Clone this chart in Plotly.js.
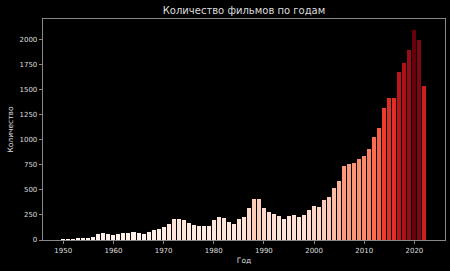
<!DOCTYPE html>
<html>
<head>
<meta charset="utf-8">
<script src="https://cdn.plot.ly/plotly-3.0.1.min.js"></script>
<style>html,body{margin:0;padding:0;background:#000;}#chart{width:450px;height:271px;}</style>
</head>
<body>
<div id="chart"></div>
<script>
const years = [1950,1951,1952,1953,1954,1955,1956,1957,1958,1959,
  1960,1961,1962,1963,1964,1965,1966,1967,1968,1969,
  1970,1971,1972,1973,1974,1975,1976,1977,1978,1979,
  1980,1981,1982,1983,1984,1985,1986,1987,1988,1989,
  1990,1991,1992,1993,1994,1995,1996,1997,1998,1999,
  2000,2001,2002,2003,2004,2005,2006,2007,2008,2009,
  2010,2011,2012,2013,2014,2015,2016,2017,2018,2019,
  2020,2021,2022];
const counts = [8,12,10,18,25,25,35,63,72,58,
  55,57,68,68,85,72,65,85,102,108,
  128,160,210,205,200,165,145,138,138,137,
  195,228,218,183,162,208,228,318,410,410,
  318,275,255,235,212,240,246,228,246,302,
  336,333,400,433,515,588,740,757,767,807,
  840,913,1032,1122,1318,1422,1418,1682,1772,1898,
  2104,1995,1538];
const titleText = "Количество фильмов по годам";
const xLabel = "Год";
const yLabel = "Количество";
const xTicks = [1950,1960,1970,1980,1990,2000,2010,2020];
const yTicks = [0,250,500,750,1000,1250,1500,1750,2000];

const redsScale = [
  [0.0,'#fff5f0'],[0.125,'#fee0d2'],[0.25,'#fcbba1'],[0.375,'#fc9272'],
  [0.5,'#fb6a4a'],[0.625,'#ef3b2c'],[0.75,'#cb181d'],[0.875,'#a50f15'],[1.0,'#67000d']];
const maxV = Math.max(...counts);

const trace = {
  type: 'bar', x: years, y: counts, width: 0.8,
  marker: {color: counts, colorscale: redsScale, cmin: 0, cmax: maxV, line: {width: 0}},
  hoverinfo: 'x+y'
};
const txt = '#dddddd';
const spine = '#aaaaaa';
const layout = {
  width: 450, height: 271,
  paper_bgcolor: '#000', plot_bgcolor: '#000',
  margin: {l: 43, r: 5, t: 19, b: 31, pad: 0},
  font: {family: 'DejaVu Sans', color: txt, size: 7.5},
  title: {text: titleText, font: {size: 10, color: txt, family: 'DejaVu Sans'},
    x: 0.5, xref: 'paper', y: 1 - 10/271, yref: 'container', yanchor: 'middle'},
  showlegend: false,
  bargap: 0,
  xaxis: {range: [1945.96, 2026.1], tickvals: xTicks, ticktext: xTicks.map(String),
    ticks: 'outside', ticklen: 3.5, tickwidth: 0.8, tickcolor: spine,
    showline: true, linecolor: spine, linewidth: 0.8, mirror: true,
    showgrid: false, zeroline: false,
    tickfont: {size: 7, color: txt},
    title: {text: xLabel, font: {size: 7.5, color: txt}, standoff: 3}},
  yaxis: {range: [0, maxV*1.05], tickvals: yTicks, ticktext: yTicks.map(String),
    ticks: 'outside', ticklen: 3.5, tickwidth: 0.8, tickcolor: spine,
    showline: true, linecolor: spine, linewidth: 0.8, mirror: true,
    showgrid: false, zeroline: false,
    tickfont: {size: 7, color: txt},
    title: {text: yLabel, font: {size: 7.5, color: txt}, standoff: 4}}
};
Plotly.newPlot('chart', [trace], layout, {displayModeBar: false, staticPlot: true});
</script>
</body>
</html>
